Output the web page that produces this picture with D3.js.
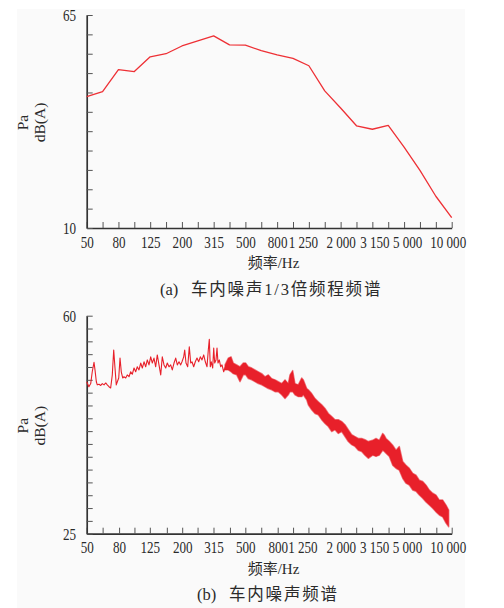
<!DOCTYPE html>
<html>
<head>
<meta charset="utf-8">
<script src="https://cdn.jsdelivr.net/npm/d3@7/dist/d3.min.js"></script>
<style>
  body { margin: 0; background: #fff; }
  svg text { font-family: "Liberation Serif", "Times New Roman", "Noto Sans CJK SC", serif; fill: #2a2a2a; }
</style>
</head>
<body>
<div id="chart"></div>
<script>
// ---- data ----
// 1/3 octave band centres (Hz)
const bands = ["50","63","80","100","125","160","200","250","315","400","500","630",
               "800","1000","1250","1600","2000","2500","3150","4000","5000","6300","8000","10000"];
const bandTickLabels = {"50":"50","80":"80","125":"125","200":"200","315":"315","500":"500",
               "800":"800","1250":"1 250","2000":"2 000","3150":"3 150","5000":"5 000","10000":"10 000"};
// (a) 1/3 octave levels, dB(A)
const octaveDb = [43.9,45.2,50.9,50.4,54.2,55.0,57.0,58.3,59.6,57.3,57.2,55.8,
                  54.7,53.8,51.9,45.4,41.0,36.4,35.5,36.5,30.9,24.9,18.2,12.7];

// (b) narrow band spectrum, low part is a thin line
const lineFreq = [50,51.6,53.0,54.2,55.6,56.4,57.5,58.3,59.8,61.3,62.7,64.3,65.9,67.4,69.1,70.8,72.5,74.0,75.4,76.8,
  78.0,79.6,81.1,82.6,84.3,85.9,88.1,90.1,92.4,94.7,96.9,99.4,101.8,104.2,106.8,109.5,112.1,114.9,117.7,120.5,
  123.5,126.6,129.6,132.8,136.1,139.3,142.8,146.4,149.8,153.6,157.4,161.1,165.1,169.2,173.2,177.6,182.0,186.3,190.9,195.7,
  199.4,204.4,207.4,211.3,216.6,221.7,226.3,230.6,236.3,241.9,247.9,254.1,260.1,266.6,273.3,279.7,286.7,292.1,296.4,300.7,
  305.1,311.4,316.0,320.6,326.7,331.5,336.3,342.7,349.7,356.4,365.3,373.9];
const lineDb = [49.4,48.6,49.1,51.0,52.5,51.3,49.4,48.9,49.0,48.8,49.1,48.9,49.2,48.9,48.6,48.4,50.5,54.5,51.6,48.9,
  49.4,50.0,53.2,51.0,50.0,50.2,50.0,50.5,50.2,51.0,50.6,51.6,51.0,51.8,51.3,52.4,51.6,52.6,51.8,52.9,
  52.1,53.4,52.4,53.2,51.8,53.7,52.1,50.5,53.4,52.1,51.6,52.4,51.8,52.1,51.3,52.4,53.2,52.1,52.6,52.1,
  52.6,53.4,54.5,52.4,51.8,55.0,52.4,52.6,51.8,52.6,53.2,52.6,53.4,52.9,53.7,52.6,51.8,54.5,56.2,51.8,
  52.6,51.6,54.8,52.4,52.9,54.8,52.4,52.9,51.8,52.1,51.0,51.8];
// from ~370 Hz up the trace is a dense band: upper / lower envelope
const bandFreq = [372.3,390.5,406.2,419.9,441.2,462.8,485.5,502.7,522.1,548.5,575.4,603.6,634.2,665.3,697.9,733.3,
  769.2,807.0,847.8,889.4,933.0,956,994.7,1028,1079,1133,1160,1219,1247,1310,1375,1442,1515,1590,1668,1752,
  1838,1928,2026,2125,2229,2342,2457,2577,2708,2841,2980,3177,3333,3496,3673,3759,3853,4043,4247,4456,
  4674,4910,5151,5405,5678,5957,6248,6565,6887,7225,7590,7962,8355,8776,9207,9575];
const bandHi = [52.1,53.2,53.4,52.4,52.1,51.8,52.4,52.4,51.8,51.6,51.3,51.0,50.7,50.2,50.5,49.9,
  49.7,49.4,49.1,49.7,49.1,50.5,51.2,49.1,48.9,50.0,49.7,48.3,48.1,47.5,46.7,46.2,45.7,45.1,44.3,43.8,
  43.3,43.3,43.0,42.5,41.7,40.9,40.6,40.3,40.3,40.1,39.8,40.0,40.3,40.0,41.1,40.8,40.3,39.8,39.2,38.4,
  39.0,36.6,36.0,35.5,34.7,34.4,33.6,33.4,32.8,32.0,31.5,31.2,30.4,30.4,29.6,28.8];
const bandLo = [51.3,51.3,51.0,50.7,50.5,49.4,50.5,50.5,49.9,49.7,49.4,49.1,48.9,48.6,48.3,48.1,
  47.8,47.8,47.3,46.7,47.3,47.8,47.8,47.3,47.0,47.0,47.3,46.5,45.7,44.9,44.3,44.1,43.3,42.7,42.2,41.4,
  41.7,41.1,41.4,40.6,39.8,39.3,39.0,38.4,38.2,37.6,37.1,37.6,37.4,37.6,38.4,38.2,37.9,37.4,36.0,35.5,
  35.2,33.9,33.1,32.8,32.0,31.8,31.2,30.7,30.1,29.6,29.1,28.5,28.0,27.7,26.7,26.1];

// ---- layout ----
const width = 504, height = 608;
const left = 86.7, right = 451.7;
const red = "#e8202a";
const squeeze = 0.77;      // numbers in the figure are set in a narrow face
const labelNudge = {"1250": -6, "3150": 2, "5000": 3, "10000": -4};

const svg = d3.select("#chart").append("svg")
    .attr("width", width).attr("height", height);

// faint paper tone of the scanned figure
svg.append("rect")
    .attr("x", 17).attr("y", 9).attr("width", 448).attr("height", 599)
    .attr("fill", "#fafafa");

function styleAxis(g){
    g.attr("font-family", null).attr("font-size", 17);
    g.select(".domain").attr("stroke", "#333").attr("stroke-width", 1.7);
    g.selectAll(".tick line").attr("stroke", "#555").attr("stroke-width", 1);
    g.selectAll(".tick text").attr("fill", "#2a2a2a")
        .attr("transform", `scale(${squeeze},1)`);
}

function drawFrame(xScale, xTicks, yScale, yTickVals, yFormat, yTop, yBot, captionTag, tagX, captionText, textX, captionY){
    // x axis
    const xAxis = svg.append("g")
        .attr("transform", `translate(0,${yBot})`)
        .call(d3.axisBottom(xScale)
            .tickValues(xTicks)
            .tickSizeInner(-6).tickSizeOuter(0).tickPadding(7.5)
            .tickFormat(d => bandTickLabels[String(d)] || ""));
    styleAxis(xAxis);
    xAxis.selectAll(".tick text").attr("dx", d => (labelNudge[String(d)] || 0) / squeeze);

    // y axis
    const yAxis = svg.append("g")
        .attr("transform", `translate(${left},0)`)
        .call(d3.axisLeft(yScale)
            .tickValues(yTickVals)
            .tickSizeInner(-6).tickSizeOuter(0).tickPadding(10.7 / squeeze)
            .tickFormat(yFormat));
    styleAxis(yAxis);

    // y title, two rotated lines
    const yMid = (yTop + yBot) / 2 + 1;
    svg.append("text")
        .attr("transform", `translate(28,${yMid}) rotate(-90)`)
        .attr("text-anchor", "middle").attr("font-size", 15.5)
        .text("Pa");
    svg.append("text")
        .attr("transform", `translate(45,${yMid}) rotate(-90)`)
        .attr("text-anchor", "middle").attr("font-size", 15.5)
        .text("dB(A)");

    // x title
    svg.append("text")
        .attr("x", 273.5).attr("y", yBot + 40)
        .attr("text-anchor", "middle").attr("font-size", 15)
        .text("频率/Hz");

    // caption
    svg.append("text")
        .attr("x", tagX).attr("y", captionY)
        .attr("font-size", 16.5)
        .text(captionTag);
    svg.append("text")
        .attr("x", textX).attr("y", captionY)
        .attr("font-size", 16.5).attr("letter-spacing", 1.8)
        .text(captionText);
}

//---- (a) 1/3 octave spectrum ----
const xA = d3.scalePoint().domain(bands).range([left, right]);
const yA = d3.scaleLinear().domain([10, 65]).range([228, 15]);

drawFrame(xA, bands, yA, d3.range(10, 66, 5), d => (d === 10 || d === 65) ? d : "",
    15, 228, "(a)", 160, "车内噪声1/3倍频程频谱", 191, 295);

svg.append("path")
    .datum(octaveDb)
    .attr("fill", "none")
    .attr("stroke", "#ee3035")
    .attr("stroke-width", 1.3)
    .attr("stroke-linejoin", "round")
    .attr("d", d3.line().x((d, i) => xA(bands[i])).y(d => yA(d)));

//---- (b) narrow band spectrum ----
const xB = d3.scaleLog().domain([50, 10000]).range([left, right]);
const yB = d3.scaleLinear().domain([25, 60]).range([533.7, 315.7]);
const yTicksB = d3.range(18).map(i => 25 + i * 35 / 17);

drawFrame(xB, bands.map(Number), yB, yTicksB, (d, i) => i === 0 ? "25" : (i === 17 ? "60" : ""),
    315.7, 533.7, "(b)", 197, "车内噪声频谱", 229, 600);

// dense band part
const bandData = bandFreq.map((f, i) => ({f: f, hi: bandHi[i], lo: bandLo[i]}));
svg.append("path")
    .datum(bandData)
    .attr("fill", red)
    .attr("stroke", red)
    .attr("stroke-width", 1.4)
    .attr("stroke-opacity", 0.6)
    .attr("stroke-linejoin", "round")
    .attr("d", d3.area().x(d => xB(d.f)).y0(d => yB(d.lo)).y1(d => yB(d.hi)));

// low frequency line
svg.append("path")
    .datum(lineFreq.map((f, i) => [f, lineDb[i]]))
    .attr("fill", "none")
    .attr("stroke", red)
    .attr("stroke-width", 1.1)
    .attr("stroke-linejoin", "round")
    .attr("d", d3.line().x(d => xB(d[0])).y(d => yB(d[1])));
</script>
</body>
</html>
